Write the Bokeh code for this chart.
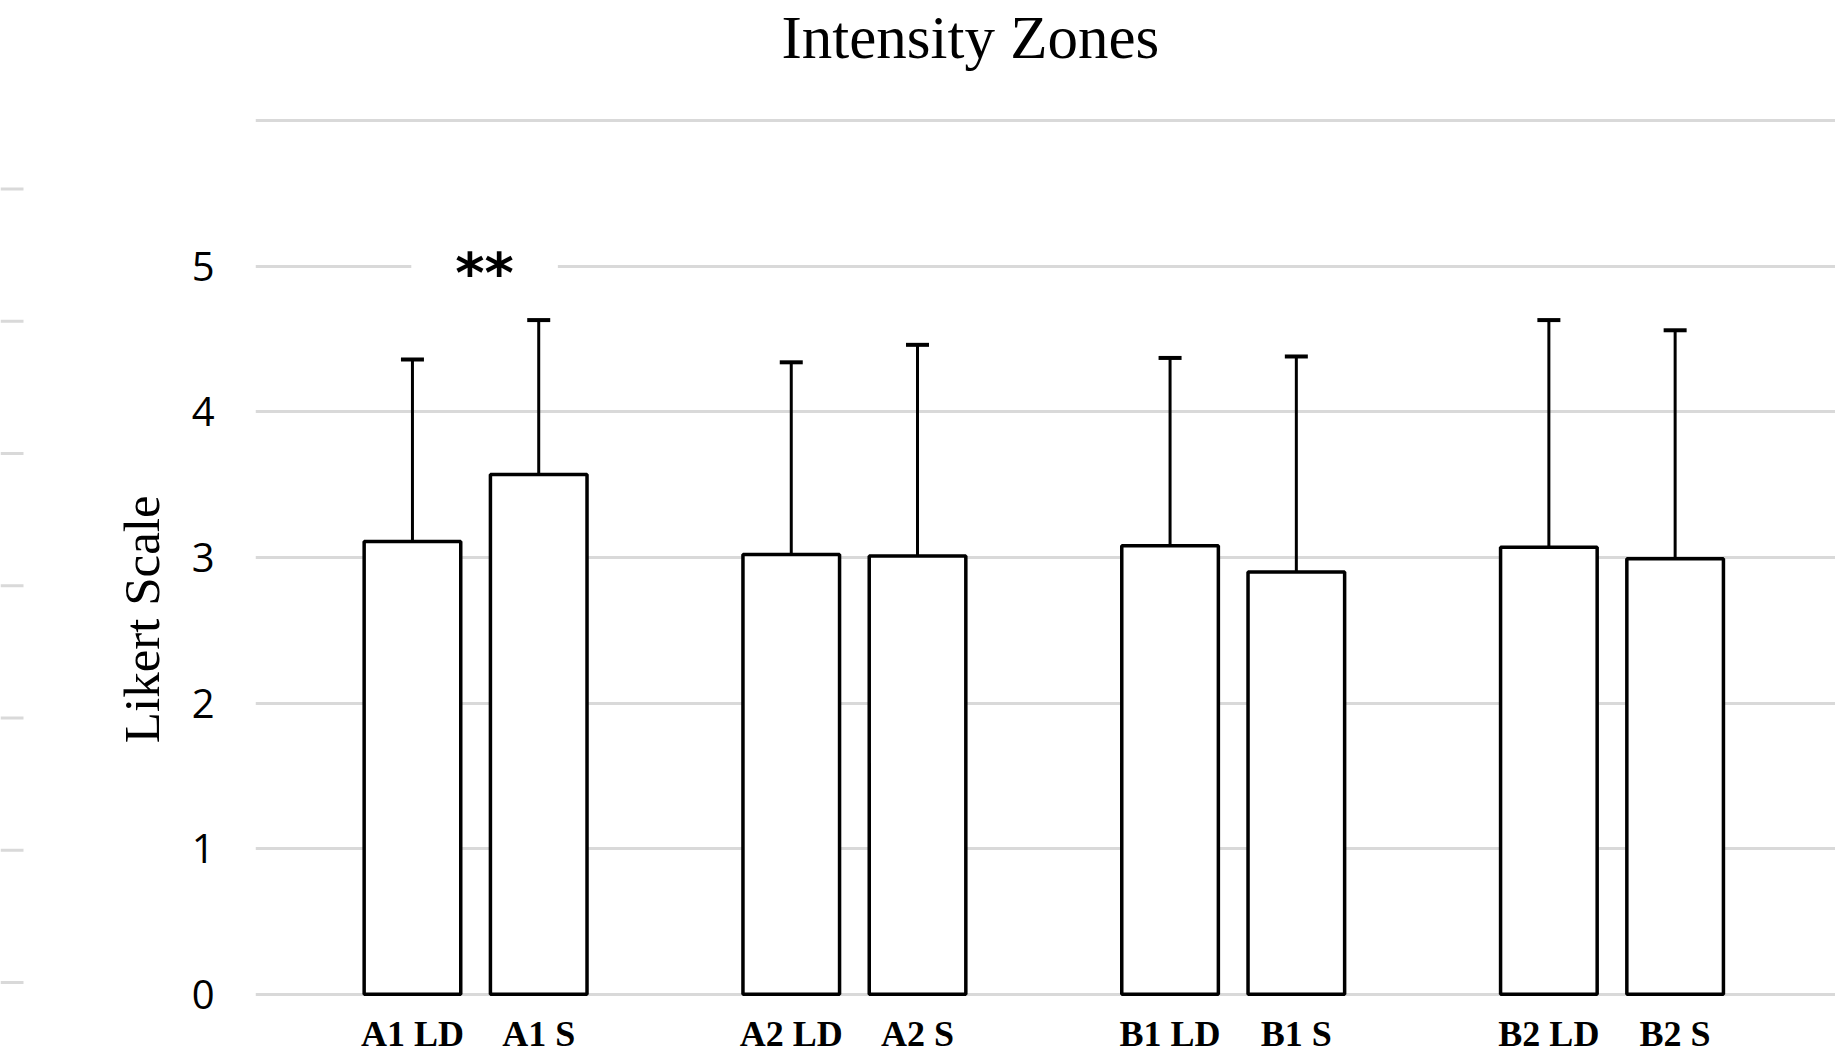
import math
from bokeh.plotting import figure
from bokeh.models import (Range1d, FixedTicker, Label, Whisker, TeeHead,
                          ColumnDataSource)
from bokeh.layouts import row
from bokeh.embed import file_html
from bokeh.resources import INLINE

# ---------------- data ----------------
groups = ["A1", "A2", "B1", "B2"]
conditions = ["LD", "S"]
labels = ["A1 LD", "A1 S", "A2 LD", "A2 S", "B1 LD", "B1 S", "B2 LD", "B2 S"]
means = [3.11, 3.57, 3.02, 3.01, 3.08, 2.90, 3.07, 2.99]
sds = [1.25, 1.06, 1.32, 1.45, 1.29, 1.48, 1.56, 1.57]
y_ticks = [0, 1, 2, 3, 4, 5, 6]
y_tick_labels = ["0", "1", "2", "3", "4", "5", ""]
ghost_ticks = [0, 1, 2, 3, 4, 5, 6]
title_text = "Intensity Zones"
y_title = "Likert Scale"
sig_text = "**"
sig_level = 5

# positions: 3 slots per group (2 bars + gap)
xs = [3 * gi + ci for gi in range(len(groups)) for ci in range(len(conditions))]
uppers = [m + s for m, s in zip(means, sds)]

H = 1056
BOTTOM = 58
LEFT_W = 175
GRID = "#d9d9d9"

src = ColumnDataSource(dict(x=xs, mean=means, upper=uppers, label=labels))

# ---------------- left strip: faint stub lines + vertical axis title ----------------
g = figure(width=LEFT_W, height=H, x_range=Range1d(0, LEFT_W),
           y_range=Range1d(-0.1057, 7.426),
           x_axis_type=None, y_axis_type=None, output_backend="svg",
           toolbar_location=None, min_border_left=0, min_border_right=0,
           min_border_top=0, min_border_bottom=BOTTOM)
g.xgrid.visible = False
g.ygrid.visible = False
g.outline_line_color = None
g.background_fill_color = "white"
g.border_fill_color = "white"
g.segment(x0=0, x1=23, y0=ghost_ticks, y1=ghost_ticks,
          line_color=GRID, line_width=3)
g.add_layout(Label(x=141, y=2.747, text=y_title, angle=math.pi / 2,
                   text_align="center", text_baseline="middle",
                   text_font="Liberation Serif", text_font_size="51px",
                   text_color="black"))

# ---------------- main chart ----------------
p = figure(width=1835 - LEFT_W, height=H,
           x_range=Range1d(-1.243, 11.27), y_range=Range1d(-0.0158, 6.825),
           output_backend="svg", toolbar_location=None,
           min_border_left=255 - LEFT_W, min_border_right=0,
           min_border_top=0, min_border_bottom=BOTTOM)
p.outline_line_color = None
p.background_fill_color = "white"
p.border_fill_color = "white"

p.vbar(x="x", top="mean", bottom=0, width=0.765, source=src,
       fill_color="white", line_color="black", line_width=3.5)

p.add_layout(Whisker(source=src, base="x", lower="mean", upper="upper",
                     line_color="black", line_width=3,
                     upper_head=TeeHead(size=23, line_width=4, line_color="black"),
                     lower_head=None, level="overlay"))

# x axis
p.xaxis.ticker = FixedTicker(ticks=xs)
p.xaxis.major_label_overrides = {x: l for x, l in zip(xs, labels)}
p.xaxis.major_label_text_font = "Liberation Serif"
p.xaxis.major_label_text_font_style = "bold"
p.xaxis.major_label_text_font_size = "36px"
p.xaxis.major_label_text_line_height = 1.0
p.xaxis.major_label_text_color = "black"
p.xaxis.major_label_standoff = 17
p.xaxis.major_tick_out = 0
p.xaxis.major_tick_in = 0
p.xaxis.minor_tick_out = 0
p.xaxis.minor_tick_in = 0
p.xaxis.axis_label = None
p.xaxis.axis_label_standoff = 0
p.xaxis.axis_line_color = None
p.xaxis.major_tick_line_color = None
p.xaxis.minor_tick_line_color = None
p.xgrid.visible = False

# y axis
p.yaxis.ticker = FixedTicker(ticks=y_ticks)
p.yaxis.major_label_overrides = {t: l for t, l in zip(y_ticks, y_tick_labels)}
p.yaxis.major_label_text_font = "Open Sans"
p.yaxis.major_label_text_font_size = "40px"
p.yaxis.major_label_text_color = "black"
p.yaxis.major_label_standoff = 41
p.yaxis.major_tick_out = 0
p.yaxis.major_tick_in = 0
p.yaxis.minor_tick_out = 0
p.yaxis.minor_tick_in = 0
p.yaxis.axis_label = None
p.yaxis.axis_line_color = None
p.yaxis.major_tick_line_color = None
p.yaxis.minor_tick_line_color = None
p.ygrid.grid_line_color = GRID
p.ygrid.grid_line_width = 3

# title
p.add_layout(Label(x=4.419, y=6.571, text=title_text, text_align="center",
                   text_baseline="alphabetic", text_font="Liberation Serif",
                   text_font_size="61px", text_color="black"))

# significance marker between A1 bars
sig_x = (xs[0] + xs[1]) / 2
p.add_layout(Label(x=sig_x, y=sig_level, x_offset=9, y_offset=-6, text=sig_text,
                   text_align="center", text_baseline="alphabetic",
                   text_font="DejaVu Sans", text_font_style="bold",
                   text_font_size="56px", text_color="black",
                   background_fill_color="white",
                   padding=dict(left=44, right=44, top=4, bottom=4)))

layout = row(g, p)
open("out.html", "w").write(file_html(layout, INLINE))
